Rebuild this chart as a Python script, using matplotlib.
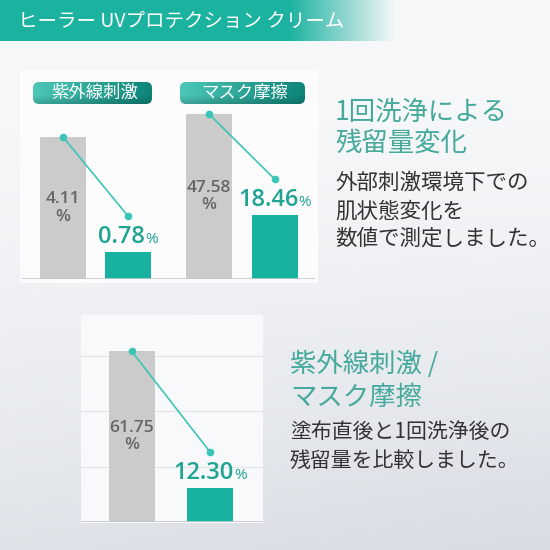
import numpy as np
import matplotlib.pyplot as plt
from matplotlib.patches import Rectangle, FancyBboxPatch
from matplotlib.offsetbox import TextArea, HPacker, AnnotationBbox

plt.rcParams['font.family'] = ['Noto Sans CJK JP', 'DejaVu Sans']

#------------------------------------------------------------------
# data
#------------------------------------------------------------------
title = 'ヒーラー UVプロテクション クリーム'
panel_names = ['紫外線刺激', 'マスク摩擦']
before = [4.11, 47.58, 61.75]     # 塗布直後 (%)
after = [0.78, 18.46, 12.30]      # 1回洗浄後 (%)
grid3 = [20, 40, 60]
head1 = ['1回洗浄による', '残留量変化']
body1 = ['外部刺激環境下での', '肌状態変化を', '数値で測定しました。']
head2 = ['紫外線刺激 /', 'マスク摩擦']
body2 = ['塗布直後と1回洗浄後の', '残留量を比較しました。']

TEAL = '#18b3a0'
TEAL_TXT = '#1fa493'
LINE = '#3cc5b5'
GREY = '#cbcbcb'
W = 550

fig = plt.figure(figsize=(5.5, 5.5), dpi=100)
bg = fig.add_axes([0, 0, 1, 1])
bg.axis('off')

# page background
yy, xx = np.mgrid[0:1:300j, 0:1:300j]
top = np.array([0.968, 0.972, 0.978])
bot = np.array([0.845, 0.862, 0.89])
t = np.clip((yy - 0.15) / 0.85, 0, 1) ** 1.4 * (0.75 + 0.25 * xx)
img = top[None, None, :] * (1 - t[..., None]) + bot[None, None, :] * t[..., None]
bg.imshow(img, extent=(0, W, W, 0), origin='upper', aspect='auto', zorder=0)

# header band
hx = np.linspace(0, 1, 400)
alpha = np.clip((395 - hx * W) / 105, 0, 1)
band = np.zeros((1, 400, 4))
band[..., :3] = [0.11, 0.70, 0.63]
band[..., 3] = alpha
bg.imshow(band, extent=(0, W, 41, 0), origin='upper', aspect='auto', zorder=1)
bg.text(18, 21, title, color='white', fontsize=14, va='center', ha='left', zorder=3)

# cards
bg.add_patch(Rectangle((20, 70), 298, 213, fc='#fcfcfd', ec='none', zorder=1))
bg.add_patch(Rectangle((81, 315), 182, 208, fc='#f8f9fa', ec='none', zorder=1))


def badge(l, tp, r, b, text):
    box = FancyBboxPatch((l, tp), r - l, b - tp, boxstyle='round,pad=0,rounding_size=6',
                         fc='none', ec='none', zorder=2)
    bg.add_patch(box)
    gx = np.linspace(0, 1, 100)
    gy = np.linspace(0, 1, 30)
    c0 = np.array([0.30, 0.78, 0.72])
    c1 = np.array([0.05, 0.52, 0.47])
    g = c0[None, :] * (1 - gx[:, None]) + c1[None, :] * gx[:, None]
    shade = 1 - 0.18 * np.clip((gy - 0.6) / 0.4, 0, 1)
    grad = g[None, :, :] * shade[:, None, None]
    im = bg.imshow(grad, extent=(l, r, b, tp), origin='upper', aspect='auto', zorder=2)
    im.set_clip_path(box)
    bg.text((l + r) / 2 + 2, (tp + b) / 2, text, color='white', fontsize=12.5,
            ha='center', va='center', zorder=3)


badge(33, 82, 152, 104, panel_names[0])
badge(180, 82, 305, 104, panel_names[1])

# right hand texts
for k, s in enumerate(head1):
    bg.text(335, 112 + 31 * k, s, color='#45a99c', fontsize=19, va='center', zorder=3)
for k, s in enumerate(body1):
    bg.text(335, 183 + 28 * k, s, color='#333333', fontsize=15.5, va='center', zorder=3)
for k, s in enumerate(head2):
    bg.text(290, 364 + 33 * k, s, color='#45a99c', fontsize=19, va='center', zorder=3)
for k, s in enumerate(body2):
    bg.text(290, 432 + 29 * k, s, color='#333333', fontsize=15, va='center', zorder=3)

bg.set_xlim(0, W)
bg.set_ylim(W, 0)


def panel(i, l, tp, r, b, gtop, c0, c1, grid=False):
    ax = fig.add_axes([l / W, 1 - b / W, (r - l) / W, (b - tp) / W])
    ax.patch.set_alpha(0)
    scale = (b - gtop) / before[i]          # pixels per %
    unit = c1 - c0                          # pixels per category step
    ax.set_xlim((l - c0) / unit, (r - c0) / unit)
    ax.set_ylim(0, (b - tp) / scale)
    for s in ax.spines.values():
        s.set_visible(False)
    ax.tick_params(left=False, bottom=False, labelleft=False, labelbottom=False)
    ax.set_xticks([])
    if grid:
        ax.set_yticks(grid3)
        ax.yaxis.grid(True, color='#e2e3e5', lw=0.9)
        ax.set_axisbelow(True)
    else:
        ax.set_yticks([])
    ax.bar([0, 1], [before[i], after[i]], width=46 / unit, color=[GREY, TEAL], zorder=2)
    ax.axhline(0, color='#c4c6c9', lw=1.2, zorder=3)
    ax.plot([0, 1], [before[i], after[i] + 36 / scale], color=LINE, lw=1.2,
            marker='o', ms=4.5, clip_on=False, zorder=4)
    ax.text(0, before[i] / 2, f'{before[i]:.2f}\n%', ha='center', va='center',
            fontsize=12.5, weight='semibold', color='#666666', family='Open Sans',
            linespacing=1.1, zorder=4)
    num = TextArea(f'{after[i]:.2f}', textprops=dict(fontsize=17, color=TEAL_TXT,
                                                     family='Open Sans', weight='semibold'))
    pct = TextArea('%', textprops=dict(fontsize=11, color=TEAL_TXT, family='Open Sans'))
    box = HPacker(children=[num, pct], align='baseline', pad=0, sep=0)
    ab = AnnotationBbox(box, (1, after[i]), xybox=(0, 2), xycoords='data',
                        boxcoords='offset points', box_alignment=(0.5, 0),
                        frameon=False, pad=0, zorder=5)
    ax.add_artist(ab)
    return ax


panel(0, 22, 100, 168, 279, 137, 63, 128)
panel(1, 168, 100, 315, 279, 114, 209, 274.5)
panel(2, 81, 315, 263, 522, 351, 131.5, 210, grid=True)

fig.savefig('out.png', dpi=100)
